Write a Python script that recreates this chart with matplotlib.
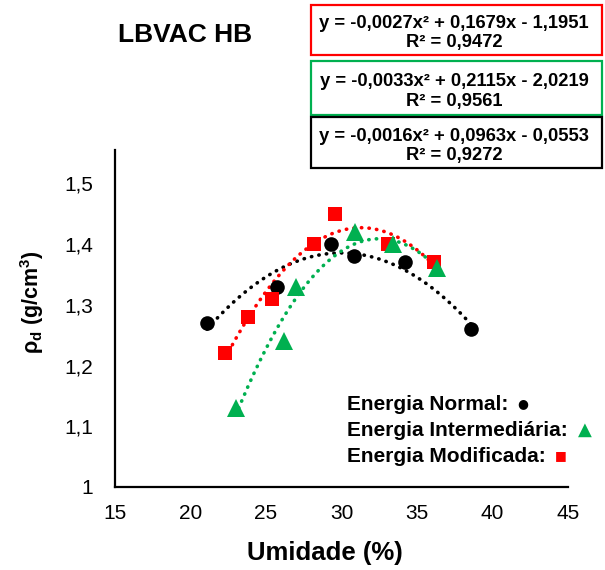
import numpy as np
import matplotlib
matplotlib.use("Agg")
import matplotlib.pyplot as plt
from matplotlib.patches import Rectangle

plt.rcParams['font.family'] = ['Liberation Sans', 'DejaVu Sans']
plt.rcParams['mathtext.fontset'] = 'custom'
plt.rcParams['mathtext.rm'] = 'Liberation Sans:bold'

# Data
x_normal = [21.1, 25.7, 29.3, 30.8, 34.2, 38.6]
y_normal = [1.27, 1.33, 1.40, 1.38, 1.37, 1.26]
x_inter = [23.0, 26.2, 27.0, 30.9, 33.4, 36.3]
y_inter = [1.13, 1.24, 1.33, 1.42, 1.40, 1.36]
x_mod = [22.3, 23.8, 25.4, 28.2, 29.6, 33.1, 36.1]
y_mod = [1.22, 1.28, 1.31, 1.40, 1.45, 1.40, 1.37]

xticks = [15, 20, 25, 30, 35, 40, 45]
yticks = [1.0, 1.1, 1.2, 1.3, 1.4, 1.5]
ytick_labels = ['1', '1,1', '1,2', '1,3', '1,4', '1,5']

eq_red = ["y = -0,0027x² + 0,1679x - 1,1951", "R² = 0,9472"]
eq_green = ["y = -0,0033x² + 0,2115x - 2,0219", "R² = 0,9561"]
eq_black = ["y = -0,0016x² + 0,0963x - 0,0553", "R² = 0,9272"]

BLACK = '#000000'
GREEN = '#00B050'
RED = '#FF0000'

W, H = 605, 570
fig = plt.figure(figsize=(W / 100, H / 100), dpi=100)
ax = fig.add_axes([115 / W, 1 - 487 / H, (568 - 115) / W, (487 - 150) / H])

dot = (0, (0.1, 2.0))
for xs, ys, c in [(x_normal, y_normal, BLACK), (x_mod, y_mod, RED), (x_inter, y_inter, GREEN)]:
    coef = np.polyfit(xs, ys, 2)
    xx = np.linspace(min(xs), max(xs), 200)
    ax.plot(xx, np.polyval(coef, xx), color=c, lw=2.6, linestyle=dot,
            dash_capstyle='round', zorder=2)

ax.plot(x_normal, y_normal, 'o', color=BLACK, ms=10.5, zorder=3, mew=0)
ax.plot(x_mod, y_mod, 's', color=RED, ms=10.5, zorder=3, mew=0)
ax.plot(x_inter, y_inter, '^', color=GREEN, ms=13.5, zorder=4, mew=0)

ax.set_xlim(15, 45)
ax.set_ylim(1.0, 1.555)
ax.set_xticks(xticks)
ax.set_xticklabels([str(v) for v in xticks])
ax.set_yticks(yticks)
ax.set_yticklabels(ytick_labels)
ax.tick_params(length=0, labelsize=15, pad=12)
ax.tick_params(axis='y', pad=16)
for s in ['top', 'right']:
    ax.spines[s].set_visible(False)
for s in ['left', 'bottom']:
    ax.spines[s].set_linewidth(1.6)

fig.text(325 / W, 1 - 553 / H, 'Umidade (%)', fontsize=18.5, fontweight='bold',
         ha='center', va='center')
fig.text(32 / W, 1 - 302 / H, r'ρ$_\mathrm{d}$ (g/cm$^\mathrm{3}$)', fontsize=15.5, fontweight='bold',
         ha='center', va='center', rotation=90)

fig.text(185.5 / W, 1 - 35 / H, 'LBVAC HB', fontsize=19, fontweight='bold',
         ha='center', va='center')

# equation boxes
boxes = [(eq_red, RED, 5, 55), (eq_green, GREEN, 60.5, 115), (eq_black, BLACK, 117, 168)]
for lines, c, top, bot in boxes:
    fig.patches.append(Rectangle((311 / W, 1 - bot / H), (602 - 311) / W, (bot - top) / H,
                                 transform=fig.transFigure, fill=False, edgecolor=c, lw=1.6))
    cy1 = top + (bot - top) * 0.38
    cy2 = top + (bot - top) * 0.75
    fig.text(454 / W, 1 - cy1 / H, lines[0], fontsize=13.2, fontweight='bold',
             ha='center', va='center')
    fig.text(454 / W, 1 - cy2 / H, lines[1], fontsize=13.2, fontweight='bold',
             ha='center', va='center')

# legend-like labels
leg = [("Energia Normal:", 404, '●', BLACK, 523, 9),
       ("Energia Intermediária:", 430, '▲', GREEN, 585, 13),
       ("Energia Modificada:", 456, '■', RED, 561, 9)]
for lab, yy, sym, c, xs, fs in leg:
    fig.text(347 / W, 1 - yy / H, lab, fontsize=15, fontweight='bold', ha='left', va='center')
    fig.text(xs / W, 1 - yy / H, sym, fontsize=fs, color=c, ha='center', va='center',
             family='DejaVu Sans')

fig.savefig('out.png', dpi=100)
